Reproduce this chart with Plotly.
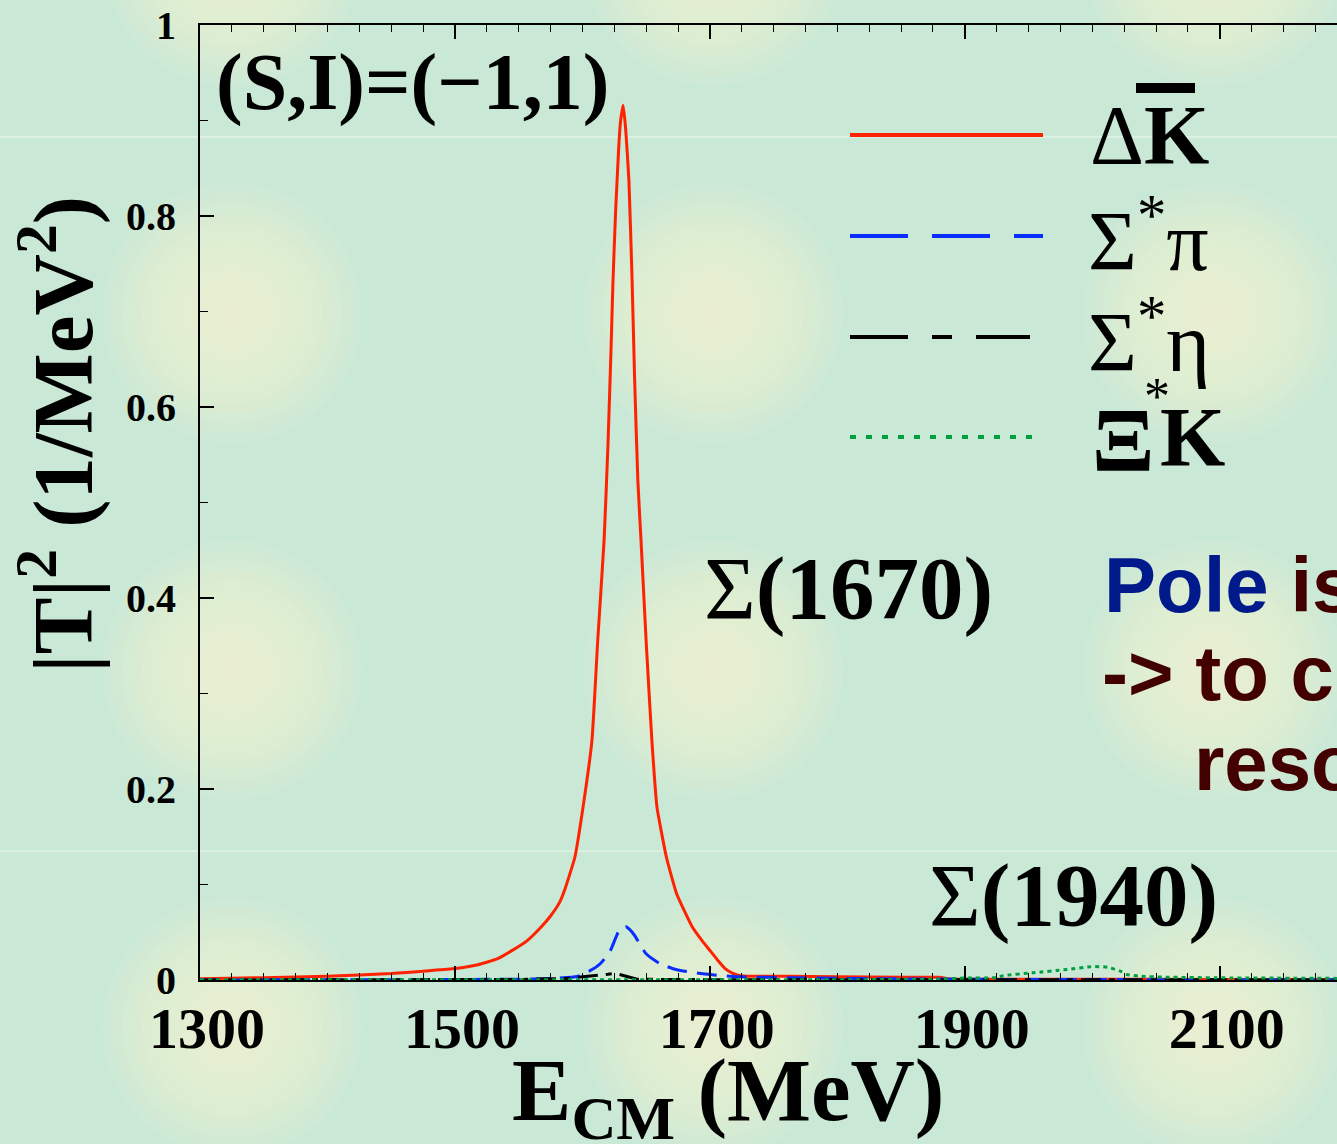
import plotly.graph_objects as go

# ---------------- data ----------------
E_dk = [1300, 1350, 1400, 1450, 1480, 1500, 1518, 1533, 1545, 1556.5, 1568, 1575, 1582, 1586,
        1594, 1600.5, 1607.5, 1612, 1617, 1620, 1622.5, 1624, 1626, 1628.5, 1630, 1632,
        1634, 1636.5, 1639, 1641, 1643.5, 1646, 1650, 1654.5, 1658.5, 1666, 1674, 1686,
        1694, 1700, 1706, 1712, 1718, 1724, 1730, 1760, 1800, 1850, 1880, 1890, 2000, 2100,
        2192]
T_dk = [0.0013, 0.0024, 0.0040, 0.0068, 0.0098, 0.0120, 0.016, 0.022, 0.031, 0.041, 0.056,
        0.067, 0.081, 0.094, 0.128, 0.181, 0.251, 0.355, 0.460, 0.558, 0.662, 0.732, 0.803,
        0.872, 0.900, 0.916, 0.890, 0.837, 0.732, 0.628, 0.523, 0.460, 0.355, 0.251, 0.181,
        0.128, 0.090, 0.056, 0.041, 0.031, 0.021, 0.012, 0.007, 0.0045, 0.0040, 0.0038,
        0.0035, 0.0030, 0.0028, 0.0010, 0.0008, 0.0006, 0.0005]

E_sp = [1300, 1500, 1560, 1580, 1596, 1605, 1614, 1622, 1628, 1631, 1634, 1637, 1641, 1650,
        1661, 1674, 1694.5, 1718, 1765, 1850, 1950, 2192]
T_sp = [0.0, 0.0005, 0.001, 0.002, 0.0037, 0.009, 0.017, 0.031, 0.050, 0.055, 0.056, 0.053,
        0.0466, 0.0274, 0.017, 0.0107, 0.0065, 0.0037, 0.0023, 0.0012, 0.0005, 0.0003]

E_se = [1300, 1550, 1588, 1608, 1620, 1625.5, 1633, 1643, 1700, 2192]
T_se = [0.0, 0.0005, 0.0017, 0.004, 0.006, 0.007, 0.0045, 0.0008, 0.0003, 0.0001]

E_xk = [1300, 1880, 1900, 1925, 1930, 1953, 1980, 1999, 2012, 2022, 2027, 2037, 2058, 2097, 2192]
T_xk = [0.0003, 0.0008, 0.0020, 0.0025, 0.0045, 0.0075, 0.011, 0.014, 0.0134, 0.0092, 0.0058,
        0.004, 0.003, 0.0023, 0.0017]

x_ticks = [1300, 1500, 1700, 1900, 2100]
y_ticks = [0, 0.2, 0.4, 0.6, 0.8, 1.0]
y_ticktext = ["0", "0.2", "0.4", "0.6", "0.8", "1"]

# ---------------- layout helpers (pixel -> paper) ----------------
W, H = 1337, 1144
L, T, B = 200, 25, 164
PW, PH = W - L, H - T - B


def px(x):
    return (x - L) / PW


def py(y):
    return (H - B - y) / PH


RED, BLUE, BLACK, GREEN = "#ff2200", "#0a2dff", "#000000", "#00a040"
SERIF = "Liberation Serif"
SANS = "Liberation Sans"

fig = go.Figure()
fig.add_trace(go.Scatter(x=E_dk, y=T_dk, mode="lines",
                         line=dict(color=RED, width=3, shape="spline", smoothing=0.4),
                         name="ΔK̄"))
fig.add_trace(go.Scatter(x=E_sp, y=T_sp, mode="lines",
                         line=dict(color=BLUE, width=3, dash="20px,10px", shape="spline",
                                   smoothing=0.5), name="Σ*π"))
fig.add_trace(go.Scatter(x=E_se, y=T_se, mode="lines",
                         line=dict(color=BLACK, width=3, dash="20px,8px,6px,8px"), name="Σ*η"))
fig.add_trace(go.Scatter(x=E_xk, y=T_xk, mode="lines",
                         line=dict(color=GREEN, width=3, dash="4px,4px", shape="spline",
                                   smoothing=0.5), name="Ξ*K"))

shapes = []
# background blobs (decoration of the slide)
blob_cx = [232, 713, 1213]
blob_cy = [-44, 313, 670, 1027]
radii = [130, 120, 110, 100, 90, 80, 70, 60, 50, 40, 30, 20, 12]
for cx in blob_cx:
    for cy in blob_cy:
        for r in radii:
            shapes.append(dict(type="circle", xref="paper", yref="paper",
                               x0=px(cx - r), x1=px(cx + r), y0=py(cy + r), y1=py(cy - r),
                               fillcolor="#f3fad6", opacity=0.11, line=dict(width=0),
                               layer="below"))
for yl in [137, 851]:
    shapes.append(dict(type="line", xref="paper", yref="paper", x0=px(0), x1=px(W),
                       y0=py(yl), y1=py(yl), line=dict(color="#dcf0e2", width=2),
                       layer="below"))

# legend lines
leg = [(135, RED, "solid", 1043), (236, BLUE, "58px,24px", 1043),
       (337, BLACK, "58px,24px,20px,24px", 1030), (437, GREEN, "6px,10px", 1038)]
for yl, col, dash, xe in leg:
    shapes.append(dict(type="line", xref="paper", yref="paper", x0=px(850), x1=px(xe),
                       y0=py(yl), y1=py(yl), line=dict(color=col, width=4, dash=dash)))
# overbar of K
shapes.append(dict(type="rect", xref="paper", yref="paper", x0=px(1136), x1=px(1195),
                   y0=py(93), y1=py(83), fillcolor="black", line=dict(width=0)))

ann = []


def A(text, x, y, size, family=SERIF, color="black", xanchor="left", yanchor="middle",
      angle=0):
    ann.append(dict(text=text, x=px(x), y=py(y), xref="paper", yref="paper",
                    showarrow=False, xanchor=xanchor, yanchor=yanchor, textangle=angle,
                    font=dict(family=family, size=size, color=color)))


A("<b>(S,I)=(−1,1)</b>", 214, 82, 80)
A("Δ<b>K</b>", 1088, 135, 84)
A("Σ<sup>*</sup>π", 1086, 236, 84)
A("Σ<sup>*</sup>η", 1086, 337, 84)
A("<b>Ξ</b>", 1090, 440, 92)
A("*", 1142, 396, 52)
A("<b>K</b>", 1158, 437, 84)
A("Σ<b>(1670)</b>", 702, 588, 89)
A("Σ<b>(1940)</b>", 927, 895, 89)
A("<b><span style='color:#001a8c'>Pole</span> is</b>", 1102, 585, 78, family=SANS,
  color="#420000")
A("<b>-> to c</b>", 1100, 673, 78, family=SANS, color="#420000")
A("<b>reso</b>", 1192, 763, 78, family=SANS, color="#420000")
A("<b>E<sub>CM</sub> (MeV)</b>", 510, 1096, 89)
A("<b>|T|<sup>2</sup> (1/MeV<sup>2</sup>)</b>", 57, 435, 85, xanchor="center", angle=-90)

fig.update_layout(
    width=W, height=H,
    margin=dict(l=L, r=0, t=T, b=B, pad=0),
    paper_bgcolor="#c9e8d6",
    plot_bgcolor="rgba(0,0,0,0)",
    showlegend=False,
    shapes=shapes,
    annotations=ann,
    xaxis=dict(range=[1300, 2192], tickvals=x_ticks, ticks="inside", ticklen=14,
               tickwidth=1.5, tickcolor="black", showline=True, linecolor="black",
               linewidth=2, mirror="allticks", showgrid=False, zeroline=False,
               minor=dict(dtick=25, tick0=1300, ticks="inside", ticklen=7, tickwidth=1.2,
                          tickcolor="black", showgrid=False),
               tickfont=dict(family=SERIF, size=58, color="black", weight="bold"),
               ticklabelstandoff=-4, ticklabelshift=7),
    yaxis=dict(range=[0, 1], tickvals=y_ticks, ticktext=y_ticktext, ticks="inside",
               ticklen=14, tickwidth=1.5, tickcolor="black", showline=True,
               linecolor="black", linewidth=2, mirror=False, showgrid=False,
               zeroline=False,
               minor=dict(dtick=0.1, tick0=0, ticks="inside", ticklen=8, tickwidth=1.2,
                          tickcolor="black", showgrid=False),
               tickfont=dict(family=SERIF, size=40, color="black", weight="bold"),
               ticklabelstandoff=14),
)

fig.write_html("out.html", config={"displayModeBar": False},
               post_script="document.body.style.margin='0';document.body.style.overflow='hidden';")
